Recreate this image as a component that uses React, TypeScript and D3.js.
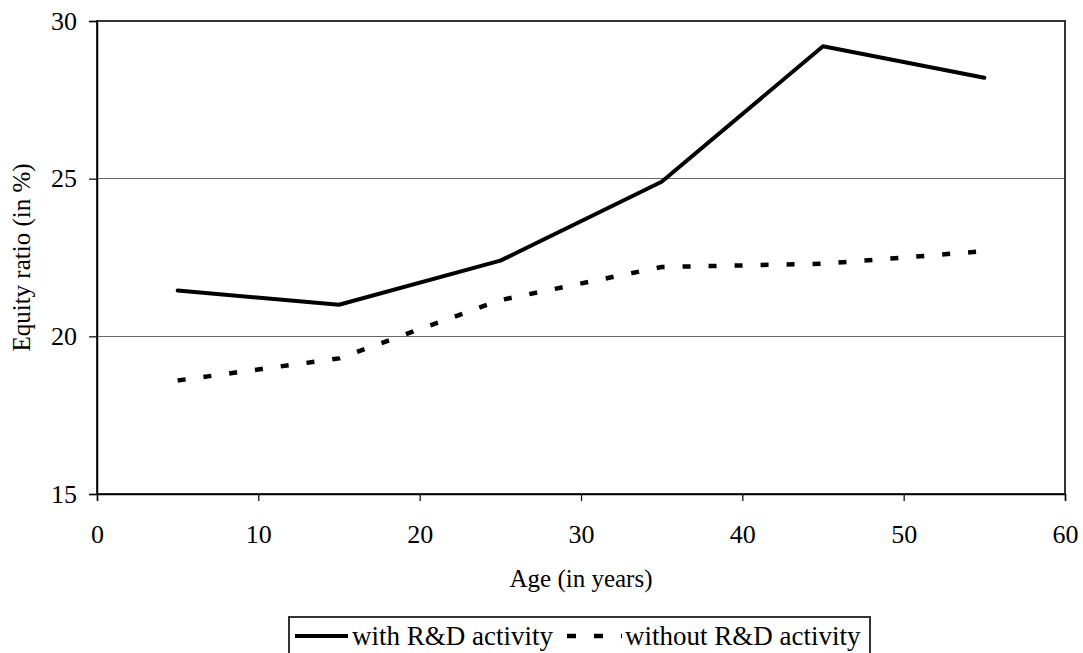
import { useEffect, useRef } from 'react'
import * as d3 from 'd3'

const ages = [5, 15, 25, 35, 45, 55]
const withRD = [21.45, 21.0, 22.4, 24.9, 29.2, 28.2]
const withoutRD = [18.6, 19.3, 21.15, 22.2, 22.3, 22.7]
const xTicks = [0, 10, 20, 30, 40, 50, 60]
const yTicks = [15, 20, 25, 30]
const seriesNames = ['with R&D activity', 'without R&D activity']

const FONT = '"Liberation Serif", "Times New Roman", serif'

export default function App() {
  const svgRef = useRef<SVGSVGElement>(null)

  useEffect(() => {
    if (!svgRef.current) return
    const svg = d3.select(svgRef.current)
    svg.selectAll('*').remove()

    const margin = { top: 21, right: 18, bottom: 159, left: 97 }
    const width = 1083
    const height = 653
    const innerWidth = width - margin.left - margin.right
    const innerHeight = height - margin.top - margin.bottom

    const x = d3.scaleLinear().domain([0, 60]).range([0, innerWidth])
    const y = d3.scaleLinear().domain([15, 30]).range([innerHeight, 0])

    const g = svg.append('g').attr('transform', `translate(${margin.left},${margin.top})`)

    // gridlines
    g.selectAll('line.grid')
      .data(yTicks.filter(t => t > 15 && t < 30))
      .join('line')
      .attr('class', 'grid')
      .attr('x1', 0)
      .attr('x2', innerWidth)
      .attr('y1', d => y(d))
      .attr('y2', d => y(d))
      .attr('stroke', '#666')
      .attr('stroke-width', 1)
      .attr('shape-rendering', 'crispEdges')

    // plot frame
    g.append('rect')
      .attr('width', innerWidth)
      .attr('height', innerHeight)
      .attr('fill', 'none')
      .attr('stroke', '#333')
      .attr('stroke-width', 1.5)
      .attr('shape-rendering', 'crispEdges')

    // axes
    const xAxis = d3.axisBottom(x).tickValues(xTicks).tickSize(7).tickPadding(24)
    g.append('g')
      .attr('transform', `translate(0,${innerHeight})`)
      .call(xAxis)
      .call(a => a.select('.domain').attr('stroke', '#000').attr('stroke-width', 1.5))
      .call(a => a.selectAll('.tick line').attr('stroke', '#000').attr('stroke-width', 1.2))
      .call(a => a.selectAll('.tick text')
        .attr('fill', '#000')
        .attr('font-family', FONT)
        .attr('font-size', '26px'))

    const yAxis = d3.axisLeft(y).tickValues(yTicks).tickSize(8).tickPadding(12)
    g.append('g')
      .call(yAxis)
      .call(a => a.select('.domain').attr('stroke', '#000').attr('stroke-width', 1.5))
      .call(a => a.selectAll('.tick line').attr('stroke', '#000').attr('stroke-width', 1.2))
      .call(a => a.selectAll('.tick text')
        .attr('fill', '#000')
        .attr('font-family', FONT)
        .attr('font-size', '26px'))

    // axis titles
    svg.append('text')
      .attr('x', margin.left + innerWidth / 2)
      .attr('y', 587)
      .attr('text-anchor', 'middle')
      .attr('font-family', FONT)
      .attr('font-size', '25px')
      .text('Age (in years)')

    svg.append('text')
      .attr('transform', `translate(30,${margin.top + innerHeight / 2}) rotate(-90)`)
      .attr('text-anchor', 'middle')
      .attr('font-family', FONT)
      .attr('font-size', '25px')
      .text('Equity ratio (in %)')

    const line = d3.line<number>()
      .x((_, i) => x(ages[i]))
      .y(d => y(d))

    g.append('path')
      .datum(withRD)
      .attr('d', line)
      .attr('fill', 'none')
      .attr('stroke', '#000')
      .attr('stroke-width', 4)
      .attr('stroke-linejoin', 'round')
      .attr('stroke-linecap', 'round')

    g.append('path')
      .datum(withoutRD)
      .attr('d', line)
      .attr('fill', 'none')
      .attr('stroke', '#000')
      .attr('stroke-width', 4.5)
      .attr('stroke-dasharray', '8,18')

    // legend
    const legend = svg.append('g').attr('transform', 'translate(289,617)')
    legend.append('rect')
      .attr('width', 581)
      .attr('height', 48)
      .attr('fill', '#fff')
      .attr('stroke', '#333')
      .attr('stroke-width', 1.5)
      .attr('shape-rendering', 'crispEdges')

    legend.append('line')
      .attr('x1', 6).attr('x2', 59)
      .attr('y1', 19).attr('y2', 19)
      .attr('stroke', '#000')
      .attr('stroke-width', 4)
    legend.append('text')
      .attr('x', 63).attr('y', 28)
      .attr('font-family', FONT)
      .attr('font-size', '27px')
      .text(seriesNames[0])

    legend.append('line')
      .attr('x1', 278).attr('x2', 333)
      .attr('y1', 19).attr('y2', 19)
      .attr('stroke', '#000')
      .attr('stroke-width', 4.5)
      .attr('stroke-dasharray', '9,18')
    legend.append('text')
      .attr('x', 336).attr('y', 28)
      .attr('font-family', FONT)
      .attr('font-size', '27px')
      .text(seriesNames[1])
  }, [])

  return (
    <svg
      ref={svgRef}
      width={1083}
      height={653}
      style={{ position: 'absolute', left: 0, top: 0, background: '#fff' }}
    />
  )
}
